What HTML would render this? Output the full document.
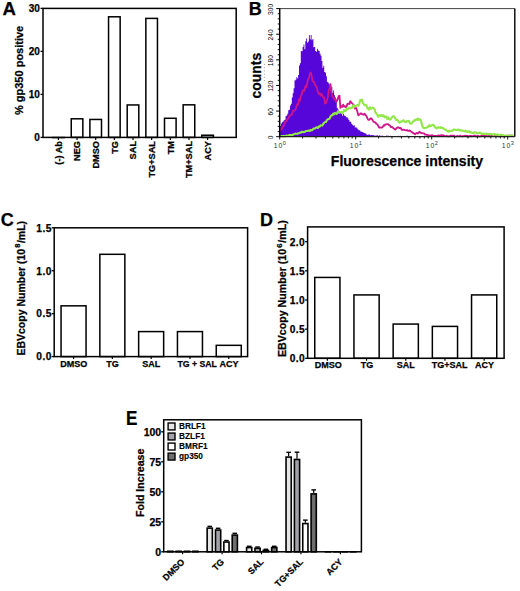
<!DOCTYPE html>
<html><head><meta charset="utf-8"><style>
html,body{margin:0;padding:0;background:#fff;}
svg{display:block;font-family:"Liberation Sans",sans-serif;}
text[font-weight=bold]{stroke:#000;stroke-width:0.25px;}
</style></head><body>
<svg width="520" height="591" viewBox="0 0 520 591">
<rect width="520" height="591" fill="#fff"/>
<text x="2.40" y="14.80" font-size="18.6" text-anchor="start" font-weight="bold" fill="#000">A</text>
<line x1="51.85" y1="137.56" x2="64.95" y2="137.56" stroke="#000" stroke-width="1.5"/>
<line x1="58.40" y1="137.40" x2="58.40" y2="139.90" stroke="#000" stroke-width="1.2"/>
<text x="61.70" y="141.00" font-size="9.2" text-anchor="end" font-weight="bold" fill="#000" transform="rotate(-90 61.70 141.00)">(-) Ab</text>
<rect x="71.25" y="118.80" width="11.60" height="18.60" fill="#fff" stroke="#000" stroke-width="1.5"/>
<line x1="77.05" y1="137.40" x2="77.05" y2="139.90" stroke="#000" stroke-width="1.2"/>
<text x="80.35" y="141.00" font-size="9.2" text-anchor="end" font-weight="bold" fill="#000" transform="rotate(-90 80.35 141.00)">NEG</text>
<rect x="89.90" y="119.45" width="11.60" height="17.95" fill="#fff" stroke="#000" stroke-width="1.5"/>
<line x1="95.70" y1="137.40" x2="95.70" y2="139.90" stroke="#000" stroke-width="1.2"/>
<text x="99.00" y="141.00" font-size="9.2" text-anchor="end" font-weight="bold" fill="#000" transform="rotate(-90 99.00 141.00)">DMSO</text>
<rect x="108.55" y="16.80" width="11.60" height="120.60" fill="#fff" stroke="#000" stroke-width="1.5"/>
<line x1="114.35" y1="137.40" x2="114.35" y2="139.90" stroke="#000" stroke-width="1.2"/>
<text x="117.65" y="141.00" font-size="9.2" text-anchor="end" font-weight="bold" fill="#000" transform="rotate(-90 117.65 141.00)">TG</text>
<rect x="127.20" y="104.95" width="11.60" height="32.45" fill="#fff" stroke="#000" stroke-width="1.5"/>
<line x1="133.00" y1="137.40" x2="133.00" y2="139.90" stroke="#000" stroke-width="1.2"/>
<text x="136.30" y="141.00" font-size="9.2" text-anchor="end" font-weight="bold" fill="#000" transform="rotate(-90 136.30 141.00)">SAL</text>
<rect x="145.85" y="18.40" width="11.60" height="119.00" fill="#fff" stroke="#000" stroke-width="1.5"/>
<line x1="151.65" y1="137.40" x2="151.65" y2="139.90" stroke="#000" stroke-width="1.2"/>
<text x="154.95" y="141.00" font-size="9.2" text-anchor="end" font-weight="bold" fill="#000" transform="rotate(-90 154.95 141.00)">TG+SAL</text>
<rect x="164.50" y="118.28" width="11.60" height="19.12" fill="#fff" stroke="#000" stroke-width="1.5"/>
<line x1="170.30" y1="137.40" x2="170.30" y2="139.90" stroke="#000" stroke-width="1.2"/>
<text x="173.60" y="141.00" font-size="9.2" text-anchor="end" font-weight="bold" fill="#000" transform="rotate(-90 173.60 141.00)">TM</text>
<rect x="183.15" y="104.83" width="11.60" height="32.57" fill="#fff" stroke="#000" stroke-width="1.5"/>
<line x1="188.95" y1="137.40" x2="188.95" y2="139.90" stroke="#000" stroke-width="1.2"/>
<text x="192.25" y="141.00" font-size="9.2" text-anchor="end" font-weight="bold" fill="#000" transform="rotate(-90 192.25 141.00)">TM+SAL</text>
<rect x="201.80" y="135.23" width="11.60" height="2.17" fill="#fff" stroke="#000" stroke-width="1.5"/>
<line x1="207.60" y1="137.40" x2="207.60" y2="139.90" stroke="#000" stroke-width="1.2"/>
<text x="210.90" y="141.00" font-size="9.2" text-anchor="end" font-weight="bold" fill="#000" transform="rotate(-90 210.90 141.00)">ACY</text>
<rect x="43.00" y="8.40" width="193.20" height="129.00" fill="none" stroke="#000" stroke-width="1.5"/>
<line x1="40.50" y1="8.40" x2="43.00" y2="8.40" stroke="#000" stroke-width="1.3"/>
<text x="39.80" y="12.00" font-size="10" text-anchor="end" font-weight="bold" fill="#000">30</text>
<line x1="40.50" y1="51.40" x2="43.00" y2="51.40" stroke="#000" stroke-width="1.3"/>
<text x="39.80" y="55.00" font-size="10" text-anchor="end" font-weight="bold" fill="#000">20</text>
<line x1="40.50" y1="94.40" x2="43.00" y2="94.40" stroke="#000" stroke-width="1.3"/>
<text x="39.80" y="98.00" font-size="10" text-anchor="end" font-weight="bold" fill="#000">10</text>
<line x1="40.50" y1="137.40" x2="43.00" y2="137.40" stroke="#000" stroke-width="1.3"/>
<text x="39.80" y="141.00" font-size="10" text-anchor="end" font-weight="bold" fill="#000">0</text>
<text x="22.70" y="70.40" font-size="11" text-anchor="middle" font-weight="bold" fill="#000" transform="rotate(-90 22.70 70.40)">% gp350 positive</text>
<text x="248.80" y="15.00" font-size="18" text-anchor="start" font-weight="bold" fill="#000">B</text>
<polygon points="280.10,136.60 280.10,125.89 281.00,125.89 281.00,123.50 281.90,123.50 281.90,122.16 282.80,122.16 282.80,121.57 283.70,121.57 283.70,120.29 284.60,120.29 284.60,119.79 285.50,119.79 285.50,116.35 286.40,116.35 286.40,115.52 287.30,115.52 287.30,113.80 288.20,113.80 288.20,110.30 289.10,110.30 289.10,109.78 290.00,109.78 290.00,105.54 290.90,105.54 290.90,103.71 291.80,103.71 291.80,97.54 292.70,97.54 292.70,93.34 293.60,93.34 293.60,88.14 294.50,88.14 294.50,80.38 295.40,80.38 295.40,79.63 296.30,79.63 296.30,77.23 297.20,77.23 297.20,78.40 298.10,78.40 298.10,74.96 299.00,74.96 299.00,65.57 299.90,65.57 299.90,63.17 300.80,63.17 300.80,50.95 301.70,50.95 301.70,51.32 302.60,51.32 302.60,46.88 303.50,46.88 303.50,44.39 304.40,44.39 304.40,49.17 305.30,49.17 305.30,41.30 306.20,41.30 306.20,38.58 307.10,38.58 307.10,42.81 308.00,42.81 308.00,41.43 308.90,41.43 308.90,35.03 309.80,35.03 309.80,39.20 310.70,39.20 310.70,34.92 311.60,34.92 311.60,40.31 312.50,40.31 312.50,38.92 313.40,38.92 313.40,47.21 314.30,47.21 314.30,47.02 315.20,47.02 315.20,50.89 316.10,50.89 316.10,51.85 317.00,51.85 317.00,48.67 317.90,48.67 317.90,50.45 318.80,50.45 318.80,51.01 319.70,51.01 319.70,53.78 320.60,53.78 320.60,55.87 321.50,55.87 321.50,61.05 322.40,61.05 322.40,67.64 323.30,67.64 323.30,65.70 324.20,65.70 324.20,72.02 325.10,72.02 325.10,72.87 326.00,72.87 326.00,76.17 326.90,76.17 326.90,81.84 327.80,81.84 327.80,82.51 328.70,82.51 328.70,83.82 329.60,83.82 329.60,85.60 330.50,85.60 330.50,88.20 331.40,88.20 331.40,87.03 332.30,87.03 332.30,92.95 333.20,92.95 333.20,90.59 334.10,90.59 334.10,95.28 335.00,95.28 335.00,98.81 335.90,98.81 335.90,101.17 336.80,101.17 336.80,107.68 337.70,107.68 337.70,109.52 338.60,109.52 338.60,113.74 339.50,113.74 339.50,112.67 340.40,112.67 340.40,113.14 341.30,113.14 341.30,113.76 342.20,113.76 342.20,115.76 343.10,115.76 343.10,114.03 344.00,114.03 344.00,115.50 344.90,115.50 344.90,116.04 345.80,116.04 345.80,117.31 346.70,117.31 346.70,117.20 347.60,117.20 347.60,118.45 348.50,118.45 348.50,120.02 349.40,120.02 349.40,121.71 350.30,121.71 350.30,121.69 351.20,121.69 351.20,123.73 352.10,123.73 352.10,124.70 353.00,124.70 353.00,125.68 353.90,125.68 353.90,125.29 354.80,125.29 354.80,127.55 355.70,127.55 355.70,127.23 356.60,127.23 356.60,128.25 357.50,128.25 357.50,129.28 358.40,129.28 358.40,130.31 359.30,130.31 359.30,130.28 360.20,130.28 360.20,131.61 361.10,131.61 361.10,131.85 362.00,131.85 362.00,132.07 362.90,132.07 362.90,132.55 363.80,132.55 363.80,132.89 364.70,132.89 364.70,133.24 365.60,133.24 365.60,133.76 366.50,133.76 366.50,134.66 367.40,134.66 367.40,135.04 368.30,135.04 368.30,134.46 369.20,134.46 369.20,134.48 370.10,134.48 370.10,135.37 371.00,135.37 371.00,135.12 371.90,135.12 371.90,135.13 372.80,135.13 372.80,135.07 373.70,135.07 373.70,135.41 374.60,135.41 374.60,135.66 375.50,135.66 375.50,135.44 376.40,135.44 376.40,135.48 377.30,135.48 377.30,135.27 378.20,135.27 378.20,135.99 379.10,135.99 379.10,135.36 380.00,135.36 380.00,135.72 380.90,135.72 380.90,136.00 381.80,136.00 381.80,135.49 382.70,135.49 382.70,135.96 383.60,135.96 383.60,136.14 384.50,136.14 384.50,135.92 385.40,135.92 385.40,136.06 386.30,136.06 386.30,135.57 387.20,135.57 387.20,135.83 388.10,135.83 388.10,135.64 389.00,135.64 389.00,136.16 389.90,136.16 389.90,135.76 390.80,135.76 390.80,135.88 391.70,135.88 391.70,136.29 392.60,136.29 392.60,136.19 393.50,136.19 393.50,136.29 394.40,136.29 394.40,135.91 395.30,135.91 395.30,135.94 396.20,135.94 396.20,136.12 397.10,136.12 397.10,135.94 398.00,135.94 398.00,135.81 398.90,135.81 398.90,135.90 399.80,135.90 399.80,135.71 400.70,135.71 400.70,135.89 401.60,135.89 401.60,136.34 402.50,136.34 402.50,136.33 403.40,136.33 403.40,136.09 404.30,136.09 404.30,136.00 405.20,136.00 405.20,135.89 406.10,135.89 406.10,135.71 407.00,135.71 407.00,135.85 407.90,135.85 407.90,136.23 408.80,136.23 408.80,136.30 409.70,136.30 409.70,135.93 410.60,135.93 410.60,136.25 411.50,136.25 411.50,136.25 412.40,136.25 412.40,136.19 413.30,136.19 413.30,136.18 414.20,136.18 414.20,136.25 415.10,136.25 415.10,135.97 416.00,135.97 416.00,136.22 416.90,136.22 416.90,135.92 417.80,135.92 417.80,136.08 418.70,136.08 418.70,136.29 419.60,136.29 419.60,136.24 420.50,136.24 420.50,135.95 421.40,135.95 421.40,136.42 422.30,136.42 422.30,136.21 423.20,136.21 423.20,136.16 424.10,136.16 424.10,135.75 425.00,135.75 425.00,136.13 425.90,136.13 425.90,135.92 426.80,135.92 426.80,136.22 427.70,136.22 427.70,136.07 428.60,136.07 428.60,136.33 429.50,136.33 429.50,136.21 430.40,136.21 430.40,136.32 431.30,136.32 431.30,135.99 432.20,135.99 432.20,136.20 433.10,136.20 433.10,136.27 434.00,136.27 434.00,136.34 434.90,136.34 434.90,135.99 435.80,135.99 435.80,136.35 436.70,136.35 436.70,136.37 437.60,136.37 437.60,136.24 438.50,136.24 438.50,136.44 439.40,136.44 439.40,136.43 440.30,136.43 440.30,136.11 441.20,136.11 441.20,136.12 442.10,136.12 442.10,135.86 443.00,135.86 443.00,136.34 443.90,136.34 443.90,136.42 444.80,136.42 444.80,136.08 445.70,136.08 445.70,136.24 446.60,136.24 446.60,136.26 447.50,136.26 447.50,136.27 448.40,136.27 448.40,135.86 449.30,135.86 449.30,136.30 450.20,136.30 450.20,136.16 451.10,136.16 451.10,136.22 452.00,136.22 452.00,136.04 452.90,136.04 452.90,136.19 453.80,136.19 453.80,136.30 454.70,136.30 454.70,136.20 455.60,136.20 455.60,136.26 456.50,136.26 456.50,135.76 457.40,135.76 457.40,135.85 458.30,135.85 458.30,136.06 459.20,136.06 459.20,136.21 460.10,136.21 460.10,135.90 461.00,135.90 461.00,136.23 461.90,136.23 461.90,136.19 462.80,136.19 462.80,135.77 463.70,135.77 463.70,136.08 464.60,136.08 464.60,135.90 465.50,135.90 465.50,135.78 466.40,135.78 466.40,135.83 467.30,135.83 467.30,135.97 468.20,135.97 468.20,135.87 469.10,135.87 469.10,135.88 470.00,135.88 470.00,135.76 470.90,135.76 470.90,136.07 471.80,136.07 471.80,136.01 472.70,136.01 472.70,136.18 473.60,136.18 473.60,136.17 474.50,136.17 474.50,135.91 475.40,135.91 475.40,136.39 476.30,136.39 476.30,135.74 477.20,135.74 477.20,136.03 478.10,136.03 478.10,135.94 479.00,135.94 479.00,136.03 479.90,136.03 479.90,135.82 480.80,135.82 480.80,136.34 481.70,136.34 481.70,136.01 482.60,136.01 482.60,135.76 483.50,135.76 483.50,136.18 484.40,136.18 484.40,135.81 485.30,135.81 485.30,136.13 486.20,136.13 486.20,135.98 487.10,135.98 487.10,136.16 488.00,136.16 488.00,136.43 488.90,136.43 488.90,136.33 489.80,136.33 489.80,136.04 490.70,136.04 490.70,136.33 491.60,136.33 491.60,136.20 492.50,136.20 492.50,136.01 493.40,136.01 493.40,135.84 494.30,135.84 494.30,136.17 495.20,136.17 495.20,136.15 496.10,136.15 496.10,136.43 497.00,136.43 497.00,136.44 497.90,136.44 497.90,136.18 498.80,136.18 498.80,135.99 499.70,135.99 499.70,136.38 500.60,136.38 500.60,135.74 501.50,135.74 501.50,135.82 502.40,135.82 502.40,136.15 503.30,136.15 503.30,136.18 504.20,136.18 504.20,135.84 505.10,135.84 505.10,136.19 506.00,136.19 506.00,136.38 506.90,136.38 506.90,136.01 507.80,136.01 507.80,136.05 508.70,136.05 508.70,135.90 509.60,135.90 509.60,135.95 510.50,135.95 510.50,136.44 511.40,136.44 511.40,136.01 512.30,136.01 512.30,136.43 513.20,136.43 513.20,136.40 514.10,136.40 514.00,136.60" fill="#5606d8"/>
<polyline points="280.10,131.37 281.00,129.36 281.90,128.74 282.80,126.57 283.70,125.77 284.60,123.63 285.50,121.58 286.40,121.40 287.30,119.06 288.20,118.72 289.10,116.55 290.00,115.36 290.90,114.97 291.80,114.82 292.70,111.42 293.60,110.49 294.50,110.52 295.40,109.89 296.30,106.86 297.20,104.29 298.10,104.67 299.00,99.15 299.90,100.73 300.80,96.53 301.70,93.87 302.60,90.96 303.50,89.99 304.40,90.82 305.30,86.19 306.20,87.04 307.10,83.87 308.00,79.34 308.90,78.29 309.80,74.37 310.70,72.48 311.60,75.27 312.50,81.19 313.40,81.55 314.30,82.48 315.20,85.21 316.10,86.21 317.00,87.83 317.90,92.45 318.80,93.69 319.70,93.10 320.60,95.66 321.50,93.82 322.40,95.60 323.30,97.18 324.20,97.62 325.10,103.49 326.00,103.13 326.90,100.44 327.80,97.48 328.70,90.39 329.60,88.36 330.50,84.20 331.40,92.67 332.30,96.48 333.20,97.40 334.10,99.36 335.00,97.89 335.90,101.67 336.80,101.02 337.70,99.27 338.60,96.16 339.50,95.80 340.40,107.90 341.30,106.21 342.20,106.89 343.10,104.65 344.00,106.69 344.90,106.22 345.80,107.22 346.70,106.14 347.60,103.66 348.50,103.57 349.40,104.14 350.30,101.10 351.20,102.56 352.10,103.32 353.00,104.50 353.90,105.23 354.80,108.63 355.70,107.34 356.60,109.15 357.50,111.99 358.40,115.41 359.30,114.65 360.20,113.92 361.10,113.25 362.00,114.25 362.90,114.19 363.80,114.74 364.70,113.63 365.60,115.23 366.50,116.12 367.40,118.40 368.30,119.87 369.20,119.78 370.10,118.96 371.00,118.28 371.90,118.94 372.80,120.53 373.70,121.90 374.60,122.14 375.50,122.58 376.40,123.92 377.30,124.25 378.20,125.93 379.10,127.54 380.00,127.50 380.90,127.63 381.80,127.63 382.70,127.07 383.60,125.28 384.50,125.62 385.40,124.35 386.30,124.28 387.20,124.11 388.10,124.19 389.00,125.11 389.90,125.43 390.80,127.05 391.70,126.74 392.60,127.44 393.50,128.35 394.40,128.97 395.30,129.61 396.20,128.49 397.10,127.71 398.00,127.47 398.90,127.59 399.80,128.22 400.70,127.95 401.60,129.75 402.50,129.81 403.40,129.53 404.30,129.87 405.20,130.20 406.10,130.42 407.00,130.03 407.90,130.84 408.80,130.83 409.70,130.45 410.60,131.38 411.50,131.77 412.40,132.46 413.30,133.19 414.20,133.54 415.10,134.26 416.00,133.30 416.90,132.93 417.80,133.59 418.70,132.46 419.60,131.76 420.50,132.89 421.40,132.82 422.30,133.17 423.20,133.49 424.10,133.29 425.00,134.35 425.90,134.58 426.80,134.93 427.70,134.96 428.60,135.68 429.50,135.46 430.40,135.72 431.30,135.29 432.20,135.20 433.10,135.80 434.00,135.99 434.90,135.87 435.80,135.84 436.70,135.87 437.60,135.81 438.50,135.33 439.40,135.63 440.30,135.50 441.20,135.20 442.10,135.23 443.00,135.49 443.90,135.49 444.80,135.93 445.70,136.21 446.60,135.74 447.50,136.23 448.40,136.30 449.30,136.29 450.20,135.75 451.10,135.64 452.00,135.67 452.90,135.66 453.80,135.69 454.70,136.11 455.60,136.37 456.50,136.32 457.40,135.98 458.30,136.14 459.20,136.27 460.10,135.60 461.00,136.14 461.90,136.37 462.80,136.25 463.70,136.22 464.60,135.96 465.50,135.68 466.40,136.25 467.30,135.82 468.20,136.26 469.10,136.42 470.00,135.88 470.90,135.88 471.80,136.39 472.70,136.18 473.60,135.66 474.50,135.62 475.40,135.64 476.30,136.34 477.20,136.25 478.10,135.63 479.00,136.27 479.90,136.41 480.80,136.10 481.70,135.81 482.60,136.00 483.50,135.60 484.40,135.49 485.30,136.39 486.20,136.09 487.10,135.97 488.00,136.35 488.90,135.88 489.80,136.29 490.70,136.25 491.60,135.67 492.50,135.70 493.40,135.74 494.30,135.69 495.20,136.01 496.10,135.70 497.00,135.85 497.90,135.58 498.80,136.31 499.70,135.79 500.60,135.88 501.50,136.00 502.40,136.30 503.30,135.84 504.20,136.31 505.10,135.92 506.00,135.94 506.90,135.93 507.80,135.46 508.70,135.85 509.60,135.61 510.50,135.44 511.40,136.19 512.30,135.59 513.20,135.88" fill="none" stroke="#d0148a" stroke-width="1.8" stroke-linejoin="round"/>
<polyline points="280.10,136.57 281.00,136.20 281.90,135.97 282.80,136.60 283.70,135.90 284.60,136.15 285.50,136.33 286.40,135.54 287.30,135.82 288.20,135.73 289.10,135.04 290.00,135.14 290.90,135.26 291.80,134.89 292.70,134.98 293.60,134.19 294.50,134.00 295.40,133.61 296.30,133.73 297.20,133.88 298.10,133.29 299.00,133.22 299.90,132.56 300.80,132.76 301.70,131.87 302.60,131.89 303.50,132.12 304.40,132.00 305.30,131.48 306.20,130.93 307.10,130.96 308.00,130.72 308.90,130.63 309.80,131.01 310.70,129.89 311.60,130.37 312.50,129.99 313.40,128.55 314.30,128.60 315.20,128.39 316.10,127.39 317.00,127.59 317.90,127.92 318.80,126.41 319.70,126.62 320.60,125.35 321.50,125.51 322.40,125.48 323.30,123.81 324.20,122.78 325.10,122.00 326.00,121.93 326.90,120.07 327.80,119.27 328.70,118.93 329.60,118.68 330.50,116.49 331.40,115.30 332.30,115.33 333.20,113.63 334.10,114.32 335.00,112.91 335.90,113.51 336.80,113.92 337.70,111.24 338.60,112.04 339.50,112.43 340.40,112.04 341.30,111.85 342.20,113.20 343.10,112.74 344.00,109.90 344.90,110.83 345.80,110.90 346.70,108.71 347.60,109.44 348.50,107.62 349.40,108.06 350.30,108.43 351.20,107.72 352.10,107.80 353.00,105.38 353.90,105.70 354.80,106.90 355.70,105.92 356.60,105.38 357.50,104.91 358.40,105.78 359.30,103.54 360.20,100.01 361.10,100.76 362.00,99.65 362.90,102.91 363.80,104.13 364.70,105.23 365.60,104.88 366.50,105.21 367.40,108.56 368.30,108.04 369.20,109.70 370.10,107.26 371.00,108.64 371.90,108.22 372.80,107.57 373.70,108.39 374.60,109.17 375.50,112.47 376.40,113.58 377.30,114.59 378.20,116.84 379.10,115.56 380.00,115.18 380.90,115.97 381.80,114.94 382.70,116.05 383.60,115.38 384.50,117.31 385.40,116.50 386.30,116.53 387.20,118.91 388.10,117.39 389.00,119.15 389.90,119.38 390.80,119.20 391.70,117.58 392.60,116.71 393.50,116.07 394.40,116.96 395.30,118.33 396.20,119.94 397.10,119.76 398.00,120.46 398.90,122.33 399.80,122.68 400.70,121.66 401.60,121.60 402.50,120.97 403.40,120.22 404.30,121.38 405.20,122.27 406.10,121.95 407.00,120.81 407.90,121.34 408.80,120.89 409.70,122.78 410.60,123.77 411.50,123.50 412.40,122.36 413.30,121.17 414.20,120.39 415.10,120.62 416.00,119.26 416.90,119.91 417.80,118.59 418.70,119.83 419.60,119.32 420.50,119.53 421.40,122.38 422.30,125.89 423.20,127.71 424.10,128.06 425.00,127.93 425.90,127.69 426.80,127.69 427.70,126.54 428.60,126.81 429.50,125.07 430.40,126.23 431.30,125.79 432.20,125.01 433.10,124.74 434.00,125.43 434.90,127.36 435.80,127.54 436.70,128.51 437.60,127.94 438.50,127.16 439.40,127.72 440.30,127.87 441.20,127.15 442.10,128.14 443.00,128.01 443.90,128.73 444.80,129.58 445.70,129.49 446.60,130.61 447.50,130.76 448.40,131.72 449.30,130.75 450.20,131.25 451.10,130.92 452.00,130.56 452.90,130.63 453.80,129.34 454.70,129.80 455.60,129.84 456.50,130.07 457.40,129.88 458.30,129.61 459.20,129.91 460.10,130.57 461.00,130.20 461.90,130.22 462.80,130.71 463.70,130.99 464.60,131.21 465.50,130.75 466.40,131.75 467.30,131.38 468.20,132.02 469.10,131.29 470.00,132.47 470.90,132.20 471.80,132.76 472.70,132.90 473.60,132.86 474.50,132.22 475.40,132.62 476.30,132.63 477.20,133.32 478.10,132.80 479.00,132.92 479.90,132.89 480.80,132.99 481.70,133.90 482.60,134.02 483.50,133.51 484.40,133.96 485.30,133.78 486.20,133.92 487.10,133.86 488.00,134.20 488.90,133.90 489.80,134.01 490.70,134.34 491.60,134.10 492.50,134.40 493.40,134.94 494.30,134.15 495.20,134.29 496.10,135.00 497.00,134.39 497.90,134.63 498.80,135.24 499.70,135.09 500.60,134.81 501.50,134.74 502.40,135.00 503.30,135.09 504.20,135.58 505.10,135.78 506.00,135.66 506.90,135.80 507.80,135.87 508.70,135.86 509.60,135.94 510.50,136.03 511.40,135.33 512.30,135.56 513.20,135.55" fill="none" stroke="#92e848" stroke-width="2.1" stroke-linejoin="round"/>
<line x1="279.70" y1="8.60" x2="514.80" y2="8.60" stroke="#444" stroke-width="1.0"/>
<line x1="514.80" y1="8.60" x2="514.80" y2="136.70" stroke="#000" stroke-width="1.4"/>
<line x1="279.70" y1="136.70" x2="514.80" y2="136.70" stroke="#222" stroke-width="1.2"/>
<line x1="279.70" y1="8.30" x2="279.70" y2="137.20" stroke="#000" stroke-width="1.5"/>
<line x1="276.20" y1="136.70" x2="279.70" y2="136.70" stroke="#000" stroke-width="1.0"/>
<text x="273.00" y="137.40" font-size="6.7" text-anchor="middle" font-weight="normal" fill="#000" transform="rotate(-90 273.00 137.40)">0</text>
<line x1="277.70" y1="131.58" x2="279.70" y2="131.58" stroke="#000" stroke-width="0.9"/>
<line x1="277.70" y1="126.45" x2="279.70" y2="126.45" stroke="#000" stroke-width="0.9"/>
<line x1="277.70" y1="121.33" x2="279.70" y2="121.33" stroke="#000" stroke-width="0.9"/>
<line x1="277.70" y1="116.20" x2="279.70" y2="116.20" stroke="#000" stroke-width="0.9"/>
<line x1="276.20" y1="111.08" x2="279.70" y2="111.08" stroke="#000" stroke-width="1.0"/>
<text x="273.00" y="111.78" font-size="6.7" text-anchor="middle" font-weight="normal" fill="#000" transform="rotate(-90 273.00 111.78)">60</text>
<line x1="277.70" y1="105.96" x2="279.70" y2="105.96" stroke="#000" stroke-width="0.9"/>
<line x1="277.70" y1="100.83" x2="279.70" y2="100.83" stroke="#000" stroke-width="0.9"/>
<line x1="277.70" y1="95.71" x2="279.70" y2="95.71" stroke="#000" stroke-width="0.9"/>
<line x1="277.70" y1="90.58" x2="279.70" y2="90.58" stroke="#000" stroke-width="0.9"/>
<line x1="276.20" y1="85.46" x2="279.70" y2="85.46" stroke="#000" stroke-width="1.0"/>
<text x="273.00" y="86.16" font-size="6.7" text-anchor="middle" font-weight="normal" fill="#000" transform="rotate(-90 273.00 86.16)">120</text>
<line x1="277.70" y1="80.34" x2="279.70" y2="80.34" stroke="#000" stroke-width="0.9"/>
<line x1="277.70" y1="75.21" x2="279.70" y2="75.21" stroke="#000" stroke-width="0.9"/>
<line x1="277.70" y1="70.09" x2="279.70" y2="70.09" stroke="#000" stroke-width="0.9"/>
<line x1="277.70" y1="64.96" x2="279.70" y2="64.96" stroke="#000" stroke-width="0.9"/>
<line x1="276.20" y1="59.84" x2="279.70" y2="59.84" stroke="#000" stroke-width="1.0"/>
<text x="273.00" y="60.54" font-size="6.7" text-anchor="middle" font-weight="normal" fill="#000" transform="rotate(-90 273.00 60.54)">180</text>
<line x1="277.70" y1="54.72" x2="279.70" y2="54.72" stroke="#000" stroke-width="0.9"/>
<line x1="277.70" y1="49.59" x2="279.70" y2="49.59" stroke="#000" stroke-width="0.9"/>
<line x1="277.70" y1="44.47" x2="279.70" y2="44.47" stroke="#000" stroke-width="0.9"/>
<line x1="277.70" y1="39.34" x2="279.70" y2="39.34" stroke="#000" stroke-width="0.9"/>
<line x1="276.20" y1="34.22" x2="279.70" y2="34.22" stroke="#000" stroke-width="1.0"/>
<text x="273.00" y="34.92" font-size="6.7" text-anchor="middle" font-weight="normal" fill="#000" transform="rotate(-90 273.00 34.92)">240</text>
<line x1="277.70" y1="29.10" x2="279.70" y2="29.10" stroke="#000" stroke-width="0.9"/>
<line x1="277.70" y1="23.97" x2="279.70" y2="23.97" stroke="#000" stroke-width="0.9"/>
<line x1="277.70" y1="18.85" x2="279.70" y2="18.85" stroke="#000" stroke-width="0.9"/>
<line x1="277.70" y1="13.72" x2="279.70" y2="13.72" stroke="#000" stroke-width="0.9"/>
<line x1="276.20" y1="8.60" x2="279.70" y2="8.60" stroke="#000" stroke-width="1.0"/>
<text x="273.00" y="9.30" font-size="6.7" text-anchor="middle" font-weight="normal" fill="#000" transform="rotate(-90 273.00 9.30)">300</text>
<line x1="279.70" y1="136.70" x2="279.70" y2="139.50" stroke="#000" stroke-width="0.9"/>
<line x1="302.58" y1="136.70" x2="302.58" y2="138.50" stroke="#000" stroke-width="0.9"/>
<line x1="315.96" y1="136.70" x2="315.96" y2="138.50" stroke="#000" stroke-width="0.9"/>
<line x1="325.46" y1="136.70" x2="325.46" y2="138.50" stroke="#000" stroke-width="0.9"/>
<line x1="332.82" y1="136.70" x2="332.82" y2="138.50" stroke="#000" stroke-width="0.9"/>
<line x1="338.84" y1="136.70" x2="338.84" y2="138.50" stroke="#000" stroke-width="0.9"/>
<line x1="343.93" y1="136.70" x2="343.93" y2="138.50" stroke="#000" stroke-width="0.9"/>
<line x1="348.33" y1="136.70" x2="348.33" y2="138.50" stroke="#000" stroke-width="0.9"/>
<line x1="352.22" y1="136.70" x2="352.22" y2="138.50" stroke="#000" stroke-width="0.9"/>
<line x1="355.70" y1="136.70" x2="355.70" y2="139.50" stroke="#000" stroke-width="0.9"/>
<line x1="378.58" y1="136.70" x2="378.58" y2="138.50" stroke="#000" stroke-width="0.9"/>
<line x1="391.96" y1="136.70" x2="391.96" y2="138.50" stroke="#000" stroke-width="0.9"/>
<line x1="401.46" y1="136.70" x2="401.46" y2="138.50" stroke="#000" stroke-width="0.9"/>
<line x1="408.82" y1="136.70" x2="408.82" y2="138.50" stroke="#000" stroke-width="0.9"/>
<line x1="414.84" y1="136.70" x2="414.84" y2="138.50" stroke="#000" stroke-width="0.9"/>
<line x1="419.93" y1="136.70" x2="419.93" y2="138.50" stroke="#000" stroke-width="0.9"/>
<line x1="424.33" y1="136.70" x2="424.33" y2="138.50" stroke="#000" stroke-width="0.9"/>
<line x1="428.22" y1="136.70" x2="428.22" y2="138.50" stroke="#000" stroke-width="0.9"/>
<line x1="431.70" y1="136.70" x2="431.70" y2="139.50" stroke="#000" stroke-width="0.9"/>
<line x1="454.58" y1="136.70" x2="454.58" y2="138.50" stroke="#000" stroke-width="0.9"/>
<line x1="467.96" y1="136.70" x2="467.96" y2="138.50" stroke="#000" stroke-width="0.9"/>
<line x1="477.46" y1="136.70" x2="477.46" y2="138.50" stroke="#000" stroke-width="0.9"/>
<line x1="484.82" y1="136.70" x2="484.82" y2="138.50" stroke="#000" stroke-width="0.9"/>
<line x1="490.84" y1="136.70" x2="490.84" y2="138.50" stroke="#000" stroke-width="0.9"/>
<line x1="495.93" y1="136.70" x2="495.93" y2="138.50" stroke="#000" stroke-width="0.9"/>
<line x1="500.33" y1="136.70" x2="500.33" y2="138.50" stroke="#000" stroke-width="0.9"/>
<line x1="504.22" y1="136.70" x2="504.22" y2="138.50" stroke="#000" stroke-width="0.9"/>
<line x1="507.70" y1="136.70" x2="507.70" y2="139.50" stroke="#000" stroke-width="0.9"/>
<text x="279.80" y="148.1" font-size="6.8" text-anchor="middle" fill="#333" letter-spacing="0.9">10<tspan font-size="5.6" dx="-0.5" dy="-3.6" letter-spacing="0">0</tspan></text>
<text x="355.80" y="148.1" font-size="6.8" text-anchor="middle" fill="#333" letter-spacing="0.9">10<tspan font-size="5.6" dx="-0.5" dy="-3.6" letter-spacing="0">1</tspan></text>
<text x="431.80" y="148.1" font-size="6.8" text-anchor="middle" fill="#333" letter-spacing="0.9">10<tspan font-size="5.6" dx="-0.5" dy="-3.6" letter-spacing="0">2</tspan></text>
<text x="507.80" y="148.1" font-size="6.8" text-anchor="middle" fill="#333" letter-spacing="0.9">10<tspan font-size="5.6" dx="-0.5" dy="-3.6" letter-spacing="0">3</tspan></text>
<text x="330.80" y="165.60" font-size="14.05" text-anchor="start" font-weight="bold" fill="#000">Fluorescence intensity</text>
<text x="261.20" y="75.60" font-size="13.9" text-anchor="middle" font-weight="bold" fill="#000" transform="rotate(-90 261.20 75.60)">counts</text>
<line x1="264.4" y1="64" x2="264.4" y2="83" stroke="#999" stroke-width="0.9" stroke-dasharray="1 2.2"/>
<text x="0.80" y="226.20" font-size="18" text-anchor="start" font-weight="bold" fill="#000">C</text>
<rect x="61.05" y="305.83" width="25.00" height="50.77" fill="#fff" stroke="#000" stroke-width="1.5"/>
<line x1="73.55" y1="356.60" x2="73.55" y2="359.10" stroke="#000" stroke-width="1.2"/>
<text x="73.75" y="367.30" font-size="9.0" text-anchor="middle" font-weight="bold" fill="#000">DMSO</text>
<rect x="99.85" y="254.31" width="25.00" height="102.29" fill="#fff" stroke="#000" stroke-width="1.5"/>
<line x1="112.35" y1="356.60" x2="112.35" y2="359.10" stroke="#000" stroke-width="1.2"/>
<text x="112.55" y="367.30" font-size="9.0" text-anchor="middle" font-weight="bold" fill="#000">TG</text>
<rect x="138.65" y="331.59" width="25.00" height="25.01" fill="#fff" stroke="#000" stroke-width="1.5"/>
<line x1="151.15" y1="356.60" x2="151.15" y2="359.10" stroke="#000" stroke-width="1.2"/>
<text x="151.35" y="367.30" font-size="9.0" text-anchor="middle" font-weight="bold" fill="#000">SAL</text>
<rect x="177.45" y="331.59" width="25.00" height="25.01" fill="#fff" stroke="#000" stroke-width="1.5"/>
<line x1="189.95" y1="356.60" x2="189.95" y2="359.10" stroke="#000" stroke-width="1.2"/>
<text x="177.50" y="367.30" font-size="8.7" text-anchor="start" font-weight="bold" fill="#000">TG + SAL</text>
<rect x="216.25" y="345.33" width="25.00" height="11.27" fill="#fff" stroke="#000" stroke-width="1.5"/>
<line x1="228.75" y1="356.60" x2="228.75" y2="359.10" stroke="#000" stroke-width="1.2"/>
<text x="228.95" y="367.30" font-size="9.0" text-anchor="middle" font-weight="bold" fill="#000">ACY</text>
<rect x="54.20" y="227.80" width="193.40" height="128.80" fill="none" stroke="#000" stroke-width="1.5"/>
<line x1="51.70" y1="227.80" x2="54.20" y2="227.80" stroke="#000" stroke-width="1.3"/>
<text x="51.80" y="231.60" font-size="10.2" text-anchor="end" font-weight="bold" fill="#000" letter-spacing="0.45">1.5</text>
<line x1="51.70" y1="270.73" x2="54.20" y2="270.73" stroke="#000" stroke-width="1.3"/>
<text x="51.80" y="274.53" font-size="10.2" text-anchor="end" font-weight="bold" fill="#000" letter-spacing="0.45">1.0</text>
<line x1="51.70" y1="313.66" x2="54.20" y2="313.66" stroke="#000" stroke-width="1.3"/>
<text x="51.80" y="317.46" font-size="10.2" text-anchor="end" font-weight="bold" fill="#000" letter-spacing="0.45">0.5</text>
<line x1="51.70" y1="356.59" x2="54.20" y2="356.59" stroke="#000" stroke-width="1.3"/>
<text x="51.80" y="360.39" font-size="10.2" text-anchor="end" font-weight="bold" fill="#000" letter-spacing="0.45">0.0</text>
<text x="25" y="355.6" font-size="10.5" font-weight="bold" transform="rotate(-90 25 355.6)">EBVcopy Number (10<tspan font-size="7.5" dx="1" dy="-4.5">8</tspan><tspan dy="4.5" dx="0.6">/mL)</tspan></text>
<text x="260.00" y="226.00" font-size="18" text-anchor="start" font-weight="bold" fill="#000">D</text>
<rect x="314.75" y="277.43" width="25.20" height="80.87" fill="#fff" stroke="#000" stroke-width="1.5"/>
<line x1="327.35" y1="358.30" x2="327.35" y2="360.80" stroke="#000" stroke-width="1.2"/>
<text x="328.25" y="368.10" font-size="9.0" text-anchor="middle" font-weight="bold" fill="#000">DMSO</text>
<rect x="353.95" y="294.92" width="25.20" height="63.38" fill="#fff" stroke="#000" stroke-width="1.5"/>
<line x1="366.55" y1="358.30" x2="366.55" y2="360.80" stroke="#000" stroke-width="1.2"/>
<text x="366.95" y="368.10" font-size="9.0" text-anchor="middle" font-weight="bold" fill="#000">TG</text>
<rect x="393.15" y="324.07" width="25.20" height="34.23" fill="#fff" stroke="#000" stroke-width="1.5"/>
<line x1="405.75" y1="358.30" x2="405.75" y2="360.80" stroke="#000" stroke-width="1.2"/>
<text x="405.65" y="368.10" font-size="9.0" text-anchor="middle" font-weight="bold" fill="#000">SAL</text>
<rect x="432.35" y="326.40" width="25.20" height="31.90" fill="#fff" stroke="#000" stroke-width="1.5"/>
<line x1="444.95" y1="358.30" x2="444.95" y2="360.80" stroke="#000" stroke-width="1.2"/>
<text x="449.65" y="368.10" font-size="9.0" text-anchor="middle" font-weight="bold" fill="#000">TG+SAL</text>
<rect x="471.55" y="294.92" width="25.20" height="63.38" fill="#fff" stroke="#000" stroke-width="1.5"/>
<line x1="484.15" y1="358.30" x2="484.15" y2="360.80" stroke="#000" stroke-width="1.2"/>
<text x="484.45" y="368.10" font-size="9.0" text-anchor="middle" font-weight="bold" fill="#000">ACY</text>
<rect x="307.60" y="226.90" width="196.50" height="131.40" fill="none" stroke="#000" stroke-width="1.5"/>
<line x1="305.10" y1="241.70" x2="307.60" y2="241.70" stroke="#000" stroke-width="1.3"/>
<text x="305.20" y="245.70" font-size="10.2" text-anchor="end" font-weight="bold" fill="#000" letter-spacing="0.45">2.0</text>
<line x1="305.10" y1="270.85" x2="307.60" y2="270.85" stroke="#000" stroke-width="1.3"/>
<text x="305.20" y="274.85" font-size="10.2" text-anchor="end" font-weight="bold" fill="#000" letter-spacing="0.45">1.5</text>
<line x1="305.10" y1="300.00" x2="307.60" y2="300.00" stroke="#000" stroke-width="1.3"/>
<text x="305.20" y="304.00" font-size="10.2" text-anchor="end" font-weight="bold" fill="#000" letter-spacing="0.45">1.0</text>
<line x1="305.10" y1="329.15" x2="307.60" y2="329.15" stroke="#000" stroke-width="1.3"/>
<text x="305.20" y="333.15" font-size="10.2" text-anchor="end" font-weight="bold" fill="#000" letter-spacing="0.45">0.5</text>
<line x1="305.10" y1="358.30" x2="307.60" y2="358.30" stroke="#000" stroke-width="1.3"/>
<text x="305.20" y="362.30" font-size="10.2" text-anchor="end" font-weight="bold" fill="#000" letter-spacing="0.45">0.0</text>
<text x="286.1" y="357.1" font-size="10.65" font-weight="bold" transform="rotate(-90 286.1 357.1)">EBVcopy Number (10<tspan font-size="7.8" dx="1.2" dy="-4.6">6</tspan><tspan dy="4.6" dx="0.6">/mL)</tspan></text>
<text x="125.90" y="425.30" font-size="20.6" text-anchor="start" font-weight="bold" fill="#000" transform="translate(125.9 0) scale(0.83 1) translate(-125.9 0)">E</text>
<rect x="167.70" y="551.28" width="5.20" height="0.52" fill="#e6e6e6" stroke="#000" stroke-width="1.6"/>
<rect x="176.05" y="551.28" width="5.20" height="0.52" fill="#a2a2a8" stroke="#000" stroke-width="1.6"/>
<rect x="184.40" y="551.28" width="5.20" height="0.52" fill="#ffffff" stroke="#000" stroke-width="1.6"/>
<rect x="192.75" y="551.28" width="5.20" height="0.52" fill="#6e6e6e" stroke="#000" stroke-width="1.6"/>
<line x1="182.60" y1="551.80" x2="182.60" y2="554.30" stroke="#000" stroke-width="1.2"/>
<text x="185.20" y="562.50" font-size="8.9" text-anchor="end" font-weight="bold" fill="#000" transform="rotate(-45 185.20 562.50)">DMSO</text>
<line x1="209.75" y1="526.36" x2="209.75" y2="527.32" stroke="#000" stroke-width="1.2"/>
<line x1="207.45" y1="526.36" x2="212.05" y2="526.36" stroke="#000" stroke-width="1.4"/>
<rect x="207.15" y="528.12" width="5.20" height="23.68" fill="#e6e6e6" stroke="#000" stroke-width="1.6"/>
<line x1="218.10" y1="528.28" x2="218.10" y2="529.24" stroke="#000" stroke-width="1.2"/>
<line x1="215.80" y1="528.28" x2="220.40" y2="528.28" stroke="#000" stroke-width="1.4"/>
<rect x="215.50" y="530.04" width="5.20" height="21.76" fill="#a2a2a8" stroke="#000" stroke-width="1.6"/>
<line x1="226.45" y1="540.52" x2="226.45" y2="541.24" stroke="#000" stroke-width="1.2"/>
<line x1="224.15" y1="540.52" x2="228.75" y2="540.52" stroke="#000" stroke-width="1.4"/>
<rect x="223.85" y="542.04" width="5.20" height="9.76" fill="#ffffff" stroke="#000" stroke-width="1.6"/>
<line x1="234.80" y1="533.32" x2="234.80" y2="534.28" stroke="#000" stroke-width="1.2"/>
<line x1="232.50" y1="533.32" x2="237.10" y2="533.32" stroke="#000" stroke-width="1.4"/>
<rect x="232.20" y="535.08" width="5.20" height="16.72" fill="#6e6e6e" stroke="#000" stroke-width="1.6"/>
<line x1="222.05" y1="551.80" x2="222.05" y2="554.30" stroke="#000" stroke-width="1.2"/>
<text x="224.65" y="562.50" font-size="8.9" text-anchor="end" font-weight="bold" fill="#000" transform="rotate(-45 224.65 562.50)">TG</text>
<line x1="249.20" y1="546.28" x2="249.20" y2="546.76" stroke="#000" stroke-width="1.2"/>
<line x1="246.90" y1="546.28" x2="251.50" y2="546.28" stroke="#000" stroke-width="1.4"/>
<rect x="246.60" y="547.56" width="5.20" height="4.24" fill="#e6e6e6" stroke="#000" stroke-width="1.6"/>
<line x1="257.55" y1="547.00" x2="257.55" y2="547.48" stroke="#000" stroke-width="1.2"/>
<line x1="255.25" y1="547.00" x2="259.85" y2="547.00" stroke="#000" stroke-width="1.4"/>
<rect x="254.95" y="548.28" width="5.20" height="3.52" fill="#a2a2a8" stroke="#000" stroke-width="1.6"/>
<line x1="265.90" y1="549.28" x2="265.90" y2="549.64" stroke="#000" stroke-width="1.2"/>
<line x1="263.60" y1="549.28" x2="268.20" y2="549.28" stroke="#000" stroke-width="1.4"/>
<rect x="263.30" y="550.44" width="5.20" height="1.36" fill="#ffffff" stroke="#000" stroke-width="1.6"/>
<line x1="274.25" y1="546.28" x2="274.25" y2="546.76" stroke="#000" stroke-width="1.2"/>
<line x1="271.95" y1="546.28" x2="276.55" y2="546.28" stroke="#000" stroke-width="1.4"/>
<rect x="271.65" y="547.56" width="5.20" height="4.24" fill="#6e6e6e" stroke="#000" stroke-width="1.6"/>
<line x1="261.50" y1="551.80" x2="261.50" y2="554.30" stroke="#000" stroke-width="1.2"/>
<text x="264.10" y="562.50" font-size="8.9" text-anchor="end" font-weight="bold" fill="#000" transform="rotate(-45 264.10 562.50)">SAL</text>
<line x1="288.65" y1="452.32" x2="288.65" y2="456.28" stroke="#000" stroke-width="1.2"/>
<line x1="286.35" y1="452.32" x2="290.95" y2="452.32" stroke="#000" stroke-width="1.4"/>
<rect x="286.05" y="457.08" width="5.20" height="94.72" fill="#e6e6e6" stroke="#000" stroke-width="1.6"/>
<line x1="297.00" y1="452.20" x2="297.00" y2="458.68" stroke="#000" stroke-width="1.2"/>
<line x1="294.70" y1="452.20" x2="299.30" y2="452.20" stroke="#000" stroke-width="1.4"/>
<rect x="294.40" y="459.48" width="5.20" height="92.32" fill="#a2a2a8" stroke="#000" stroke-width="1.6"/>
<line x1="305.35" y1="520.12" x2="305.35" y2="522.76" stroke="#000" stroke-width="1.2"/>
<line x1="303.05" y1="520.12" x2="307.65" y2="520.12" stroke="#000" stroke-width="1.4"/>
<rect x="302.75" y="523.56" width="5.20" height="28.24" fill="#ffffff" stroke="#000" stroke-width="1.6"/>
<line x1="313.70" y1="489.88" x2="313.70" y2="493.12" stroke="#000" stroke-width="1.2"/>
<line x1="311.40" y1="489.88" x2="316.00" y2="489.88" stroke="#000" stroke-width="1.4"/>
<rect x="311.10" y="493.92" width="5.20" height="57.88" fill="#6e6e6e" stroke="#000" stroke-width="1.6"/>
<line x1="300.95" y1="551.80" x2="300.95" y2="554.30" stroke="#000" stroke-width="1.2"/>
<text x="303.55" y="562.50" font-size="8.9" text-anchor="end" font-weight="bold" fill="#000" transform="rotate(-45 303.55 562.50)">TG+SAL</text>
<line x1="324.70" y1="551.84" x2="331.50" y2="551.84" stroke="#000" stroke-width="1.6"/>
<line x1="333.05" y1="551.84" x2="339.85" y2="551.84" stroke="#000" stroke-width="1.6"/>
<line x1="341.40" y1="551.84" x2="348.20" y2="551.84" stroke="#000" stroke-width="1.6"/>
<line x1="349.75" y1="551.84" x2="356.55" y2="551.84" stroke="#000" stroke-width="1.6"/>
<line x1="340.40" y1="551.80" x2="340.40" y2="554.30" stroke="#000" stroke-width="1.2"/>
<text x="343.00" y="562.50" font-size="8.9" text-anchor="end" font-weight="bold" fill="#000" transform="rotate(-45 343.00 562.50)">ACY</text>
<rect x="163.70" y="419.80" width="197.70" height="132.00" fill="none" stroke="#000" stroke-width="1.5"/>
<line x1="161.20" y1="431.80" x2="163.70" y2="431.80" stroke="#000" stroke-width="1.3"/>
<text x="161.20" y="435.50" font-size="10.5" text-anchor="end" font-weight="bold" fill="#000">100</text>
<line x1="161.20" y1="461.80" x2="163.70" y2="461.80" stroke="#000" stroke-width="1.3"/>
<text x="161.20" y="465.50" font-size="10.5" text-anchor="end" font-weight="bold" fill="#000">75</text>
<line x1="161.20" y1="491.80" x2="163.70" y2="491.80" stroke="#000" stroke-width="1.3"/>
<text x="161.20" y="495.50" font-size="10.5" text-anchor="end" font-weight="bold" fill="#000">50</text>
<line x1="161.20" y1="521.80" x2="163.70" y2="521.80" stroke="#000" stroke-width="1.3"/>
<text x="161.20" y="525.50" font-size="10.5" text-anchor="end" font-weight="bold" fill="#000">25</text>
<line x1="161.20" y1="551.80" x2="163.70" y2="551.80" stroke="#000" stroke-width="1.3"/>
<text x="161.20" y="555.50" font-size="10.5" text-anchor="end" font-weight="bold" fill="#000">0</text>
<text x="144.40" y="482.80" font-size="10.6" text-anchor="middle" font-weight="bold" fill="#000" transform="rotate(-90 144.40 482.80)">Fold Increase</text>
<rect x="168.10" y="423.00" width="6.90" height="6.90" fill="#e6e6e6" stroke="#000" stroke-width="1.4"/>
<text x="179.00" y="429.00" font-size="8.3" text-anchor="start" font-weight="bold" fill="#000" style="stroke-width:0.1px">BRLF1</text>
<rect x="168.10" y="433.05" width="6.90" height="6.90" fill="#a2a2a8" stroke="#000" stroke-width="1.4"/>
<text x="179.00" y="439.05" font-size="8.3" text-anchor="start" font-weight="bold" fill="#000" style="stroke-width:0.1px">BZLF1</text>
<rect x="168.10" y="443.10" width="6.90" height="6.90" fill="#ffffff" stroke="#000" stroke-width="1.4"/>
<text x="179.00" y="449.10" font-size="8.3" text-anchor="start" font-weight="bold" fill="#000" style="stroke-width:0.1px">BMRF1</text>
<rect x="168.10" y="453.15" width="6.90" height="6.90" fill="#6e6e6e" stroke="#000" stroke-width="1.4"/>
<text x="179.00" y="459.15" font-size="8.3" text-anchor="start" font-weight="bold" fill="#000" style="stroke-width:0.1px">gp350</text>
</svg></body></html>
